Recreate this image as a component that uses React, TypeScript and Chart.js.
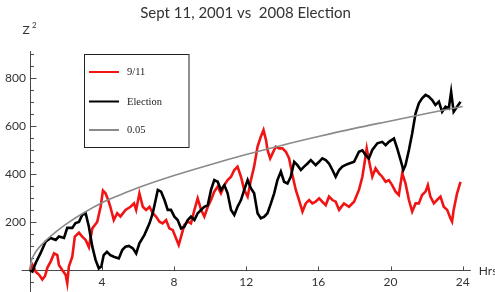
import React, { useEffect, useRef } from "react";
import { Chart, registerables } from "chart.js";

Chart.register(...registerables);

const TITLE = "Sept 11, 2001 vs  2008 Election";
const Y_LABEL = "Z";
const Y_LABEL_SUP = "2";
const X_LABEL = "Hrs";
const X_TICKS = [4, 8, 12, 16, 20, 24];
const Y_TICKS = [200, 400, 600, 800];
const Y_MINOR_STEP = 50;

const SERIES_NAMES = ["9/11", "Election", "0.05"];
const SERIES_COLORS = ["#f01414", "#000000", "#8a8a8a"];

const sept11Hours = [
  0, 0.15, 0.33, 0.52, 0.7, 0.85, 0.98, 1.16, 1.35, 1.53, 1.62, 1.8, 1.99, 2.08, 2.17, 2.36, 2.5, 2.73, 2.91,
  3.1, 3.28, 3.47, 3.74, 3.93, 4.06, 4.2, 4.35, 4.47, 4.66, 4.85, 5.03, 5.31, 5.59, 5.78, 5.9, 6.08, 6.27,
  6.45, 6.64, 6.82, 7.0, 7.19, 7.37, 7.56, 7.74, 7.93, 8.11, 8.26, 8.39, 8.57, 8.76, 8.94, 9.13, 9.31, 9.5,
  9.68, 9.87, 10.05, 10.23, 10.42, 10.6, 10.79, 10.97, 11.16, 11.34, 11.52, 11.71, 11.89, 12.08, 12.26,
  12.44, 12.63, 12.81, 12.96, 13.1, 13.18, 13.33, 13.46, 13.64, 13.83, 14.01, 14.2, 14.38, 14.56, 14.75,
  14.93, 15.12, 15.3, 15.49, 15.67, 15.85, 16.04, 16.22, 16.41, 16.59, 16.78, 16.96, 17.15, 17.42, 17.7,
  17.98, 18.25, 18.44, 18.57, 18.68, 18.8, 18.99, 19.17, 19.36, 19.54, 19.73, 19.91, 20.09, 20.28, 20.46,
  20.56, 20.65, 20.83, 21.02, 21.2, 21.39, 21.57, 21.75, 21.94, 22.07, 22.21, 22.4, 22.58, 22.77, 22.95,
  23.14, 23.32, 23.41, 23.5, 23.69, 23.88,
];
const sept11Values = [
  0, 21, -7, -20, -40, -25, 10, 35, 69, 62, 21, 0, -20, -55, 14, 55, 139, 155, 139,
  125, 95, 173, 200, 263, 330, 319, 291, 263, 208, 236, 222, 250, 263, 277, 250, 319, 263,
  250, 263, 236, 222, 201, 194, 208, 173, 166, 132, 104, 139, 187, 201, 194, 250, 298, 250,
  222, 263, 291, 326, 347, 319, 353, 374, 388, 416, 430, 388, 333, 305, 374,
  430, 513, 554, 582, 540, 499, 464, 485, 513, 506, 506, 492, 464, 395, 333,
  291, 243, 277, 291, 277, 284, 298, 284, 270, 305, 291, 284, 250, 277, 263,
  284, 333, 388, 450, 506, 457, 388, 423, 402, 388, 367, 374, 353, 326, 312,
  360, 402, 360, 291, 243, 277, 277, 312, 326, 353, 305, 277, 291, 305, 263,
  250, 215, 201, 250, 319, 367,
];

const electionHours = [
  0, 0.15, 0.33, 0.6, 0.88, 1.16, 1.44, 1.62, 1.9, 2.08, 2.36, 2.54, 2.73, 2.91, 3.1, 3.28, 3.47, 3.65,
  3.83, 3.97, 4.1, 4.28, 4.47, 4.66, 4.94, 5.13, 5.31, 5.5, 5.72, 5.9, 6.08, 6.36, 6.64, 6.82, 7.1, 7.28,
  7.47, 7.65, 7.83, 8.02, 8.2, 8.39, 8.57, 8.76, 8.94, 9.13, 9.31, 9.5, 9.68, 9.87, 10.05, 10.23, 10.42,
  10.6, 10.79, 10.97, 11.16, 11.34, 11.52, 11.71, 11.89, 12.08, 12.26, 12.44, 12.63, 12.81, 13.0, 13.18,
  13.37, 13.55, 13.73, 13.92, 14.1, 14.29, 14.47, 14.66, 14.84, 15.03, 15.21, 15.4, 15.58, 15.85, 16.04,
  16.22, 16.41, 16.59, 16.78, 16.96, 17.15, 17.33, 17.6, 17.98, 18.25, 18.44, 18.62, 18.8, 18.99, 19.27,
  19.54, 19.73, 19.91, 20.19, 20.37, 20.56, 20.71, 20.83, 21.02, 21.2, 21.39, 21.57, 21.75, 21.94, 22.12,
  22.31, 22.49, 22.68, 22.86, 23.05, 23.23, 23.36, 23.5, 23.69, 23.88,
];
const electionValues = [
  0, -7, 29, 70, 118, 133, 125, 139, 133, 175, 175, 195, 200, 229, 236, 180, 97, 42,
  7, 15, 62, 76, 62, 55, 48, 83, 97, 100, 90, 69, 111, 146, 194, 236, 333, 326,
  291, 250, 250, 222, 208, 173, 180, 208, 222, 208, 236, 250, 263, 270, 333, 374, 367,
  333, 353, 319, 250, 229, 263, 291, 333, 374, 340, 319, 236, 215, 222, 236,
  277, 319, 374, 409, 367, 360, 388, 450, 436, 416, 430, 443, 457, 436, 450,
  464, 457, 443, 416, 388, 416, 430, 440, 450, 492, 498, 478, 464, 499, 527,
  533, 519, 533, 547, 506, 457, 416, 436, 499, 568, 652, 693, 714, 728, 721,
  707, 686, 700, 658, 679, 672, 741, 658, 679, 700,
];

const criticalHours = [0, 0.1, 0.25, 0.5, 1, 1.5, 2, 3, 4, 5, 6, 8, 10, 12, 14, 16, 18, 20, 22, 24];
const criticalValues = [0, 40, 65, 92, 130, 162, 190, 238, 280, 312, 342, 393, 438, 480, 519, 555, 589, 620, 651, 680];

const toPoints = (xs: number[], ys: number[]) => xs.map((x, i) => ({ x, y: ys[i] }));

const AXIS_COLOR = "#4a4a4a";
const LABEL_COLOR = "#333333";
const SANS = "Lato, 'Open Sans', sans-serif";
const SERIF = "'Liberation Serif', 'DejaVu Serif', serif";

const mmaPlugin = {
  id: "mmaAxes",
  beforeDatasetsDraw(chart: any) {
    const { ctx, scales } = chart;
    const x = scales.x;
    const y = scales.y;
    const x0 = Math.round(x.getPixelForValue(0)) + 0.5;
    const y0 = Math.round(y.getPixelForValue(0)) + 0.5;
    ctx.save();
    ctx.strokeStyle = AXIS_COLOR;
    ctx.lineWidth = 1;
    ctx.beginPath();
    ctx.moveTo(x.left, y0);
    ctx.lineTo(x.right, y0);
    ctx.moveTo(x0, y.top);
    ctx.lineTo(x0, y.bottom);
    X_TICKS.forEach((t) => {
      const px = Math.round(x.getPixelForValue(t)) + 0.5;
      ctx.moveTo(px, y0);
      ctx.lineTo(px, y0 - 4);
    });
    const start = Math.ceil(y.min / Y_MINOR_STEP) * Y_MINOR_STEP;
    for (let v = start; v <= y.max; v += Y_MINOR_STEP) {
      if (v === 0) continue;
      const py = Math.round(y.getPixelForValue(v)) + 0.5;
      const len = Y_TICKS.includes(v) ? 6 : 3.5;
      ctx.moveTo(x0, py);
      ctx.lineTo(x0 + len, py);
    }
    ctx.stroke();

    ctx.fillStyle = LABEL_COLOR;
    ctx.font = `12px ${SANS}`;
    ctx.textAlign = "center";
    ctx.textBaseline = "middle";
    X_TICKS.forEach((t) => {
      ctx.fillText(String(t), x.getPixelForValue(t), y0 + 11.5);
    });
    ctx.textAlign = "right";
    Y_TICKS.forEach((v) => {
      ctx.fillText(String(v), x0 - 4.5, y.getPixelForValue(v));
    });
    ctx.textAlign = "left";
    ctx.fillText(X_LABEL, x.right + 8, y0 + 1);
    ctx.font = `12px ${SANS}`;
    ctx.fillText(Y_LABEL, 22.5, 30);
    ctx.font = `8px ${SANS}`;
    ctx.fillText(Y_LABEL_SUP, 32, 25);
    ctx.restore();
  },
  afterDatasetsDraw(chart: any) {
    const { ctx } = chart;
    ctx.save();
    ctx.fillStyle = LABEL_COLOR;
    ctx.font = `15px ${SANS}`;
    ctx.textAlign = "center";
    ctx.textBaseline = "alphabetic";
    ctx.fillText(TITLE, 245.5, 18);

    const bx = 84.5, by = 54.5, bw = 104.5, bh = 93;
    ctx.fillStyle = "#ffffff";
    ctx.fillRect(bx, by, bw, bh);
    ctx.strokeStyle = "#222222";
    ctx.lineWidth = 1;
    ctx.strokeRect(bx, by, bw, bh);
    const rows = [72, 101.5, 130];
    ctx.font = `10.5px ${SERIF}`;
    ctx.textAlign = "left";
    ctx.textBaseline = "middle";
    chart.data.datasets.forEach((ds: any, i: number) => {
      const ry = rows[i];
      ctx.strokeStyle = ds.borderColor;
      ctx.lineWidth = 2;
      ctx.beginPath();
      ctx.moveTo(89, ry);
      ctx.lineTo(119, ry);
      ctx.stroke();
      ctx.fillStyle = "#222222";
      ctx.fillText(ds.label, 127, ry + 0.5);
    });
    ctx.restore();
  },
};

export default function App() {
  const canvasRef = useRef<HTMLCanvasElement | null>(null);

  useEffect(() => {
    const canvas = canvasRef.current;
    if (!canvas) return;
    const chart = new Chart(canvas, {
      type: "line",
      data: {
        datasets: [
          {
            label: SERIES_NAMES[0],
            data: toPoints(sept11Hours, sept11Values),
            borderColor: SERIES_COLORS[0],
            borderWidth: 2.6,
            pointRadius: 0,
            tension: 0,
            fill: false,
            order: 3,
          },
          {
            label: SERIES_NAMES[1],
            data: toPoints(electionHours, electionValues),
            borderColor: SERIES_COLORS[1],
            borderWidth: 2.6,
            pointRadius: 0,
            tension: 0,
            fill: false,
            order: 2,
          },
          {
            label: SERIES_NAMES[2],
            data: toPoints(criticalHours, criticalValues),
            borderColor: SERIES_COLORS[2],
            borderWidth: 1.6,
            pointRadius: 0,
            cubicInterpolationMode: "monotone",
            fill: false,
            order: 1,
          },
        ],
      },
      options: {
        responsive: false,
        animation: false,
        devicePixelRatio: 1,
        events: [],
        layout: { padding: { left: 21.6, top: 51.2, right: 24.2, bottom: 0 } },
        plugins: {
          legend: { display: false },
          title: { display: false },
          tooltip: { enabled: false },
        },
        scales: {
          x: { type: "linear", min: -0.45, max: 24.45, display: false },
          y: { type: "linear", min: -91.5, max: 910, display: false },
        },
      },
      plugins: [mmaPlugin],
    } as any);
    return () => chart.destroy();
  }, []);

  return (
    <div style={{ position: "fixed", left: 0, top: 0, width: 495, height: 292, background: "#ffffff" }}>
      <canvas ref={canvasRef} width={495} height={292} style={{ display: "block" }} />
    </div>
  );
}
